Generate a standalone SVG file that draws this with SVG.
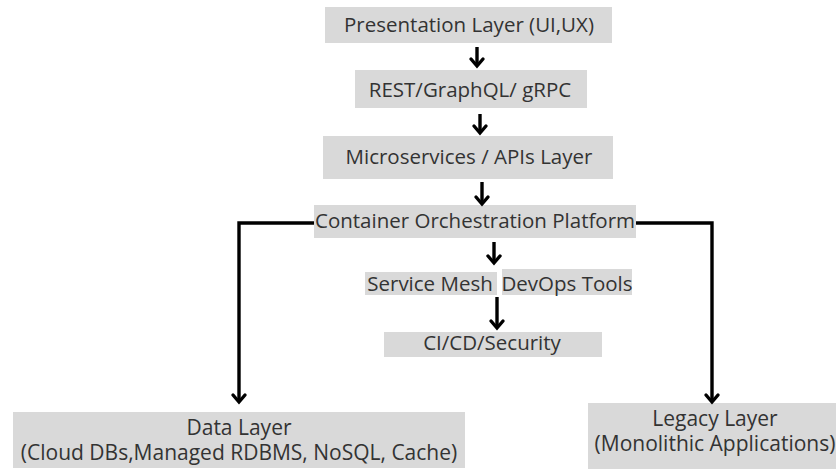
<svg xmlns="http://www.w3.org/2000/svg" width="839" height="471" viewBox="0 0 839 471">
<style>
.box{fill:#d9d9d9}
.t{font-family:"Open Sans","Liberation Sans",sans-serif;font-size:20.5px;fill:#333;text-anchor:middle}
.b{font-size:21px}
.c{fill:none;stroke:#000;stroke-width:3.4;stroke-linecap:butt;stroke-linejoin:miter}
.h{fill:none;stroke:#000;stroke-width:3.4;stroke-linecap:round;stroke-linejoin:miter}
</style>
<rect width="839" height="471" fill="#fff"/>
<g id="presentation"><rect class="box" x="325" y="7" width="287" height="36"/><text class="t" x="469" y="32">Presentation Layer (UI,UX)</text></g>
<g id="rest"><rect class="box" x="355" y="70" width="232" height="38"/><text class="t" x="470" y="97">REST/GraphQL/ gRPC</text></g>
<g id="microservices"><rect class="box" x="323" y="136" width="290" height="43"/><text class="t" x="469" y="164">Microservices / APIs Layer</text></g>
<g id="container"><rect class="box" x="314" y="205" width="322" height="33"/><text class="t" x="475" y="228">Container Orchestration Platform</text></g>
<g id="servicemesh"><rect class="box" x="365" y="272" width="132" height="23"/><text class="t" x="430" y="291">Service Mesh</text></g>
<g id="devops"><rect class="box" x="502" y="269" width="130" height="26"/><text class="t" x="567" y="291">DevOps Tools</text></g>
<g id="cicd"><rect class="box" x="384" y="332" width="218" height="25"/><text class="t" x="492" y="350">CI/CD/Security</text></g>
<g id="data"><rect class="box" x="13" y="412" width="452" height="56"/><text class="t b" x="239" y="435">Data Layer</text><text class="t b" x="239" y="460">(Cloud DBs,Managed RDBMS, NoSQL, Cache)</text></g>
<g id="legacy"><rect class="box" x="588" y="403" width="248" height="66"/><text class="t b" x="715" y="426">Legacy Layer</text><text class="t b" x="715" y="451">(Monolithic Applications)</text></g>
<g id="connectors">
<path class="c" d="M477 47V65"/><path class="h" d="M471 59L477 66L483 59"/>
<path class="c" d="M480 114V132"/><path class="h" d="M474 126L480 133L486 126"/>
<path class="c" d="M482 182V203"/><path class="h" d="M476 197L482 204L488 197"/>
<path class="c" d="M494 242V262"/><path class="h" d="M488 256L494 263L500 256"/>
<path class="c" d="M497 297V327"/><path class="h" d="M491 321L497 328L503 321"/>
<path class="c" d="M314 223H239V401"/><path class="h" d="M233 395L239 402L245 395"/>
<path class="c" d="M636 223H712V401"/><path class="h" d="M706 395L712 402L718 395"/>
</g>
</svg>
